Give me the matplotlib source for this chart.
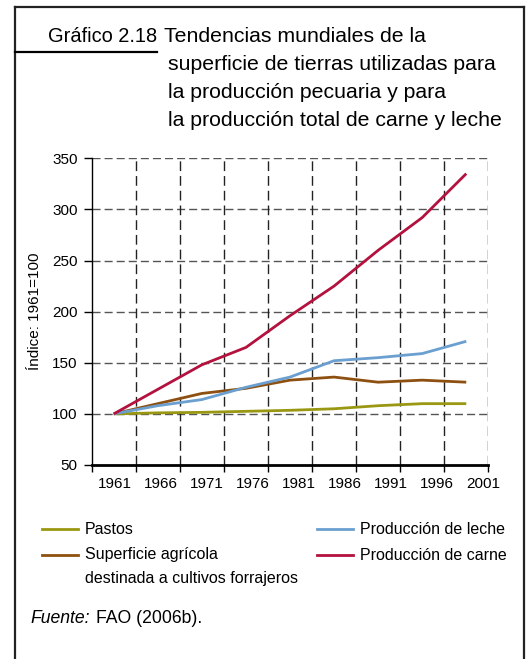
import numpy as np
import matplotlib
matplotlib.use("Agg")
import matplotlib.pyplot as plt
from matplotlib.lines import Line2D

plt.rcParams['font.family'] = ['Liberation Sans', 'DejaVu Sans']

# data (index 1961 = 100)
years = ['1961', '1966', '1971', '1976', '1981', '1986', '1991', '1996', '2001']
pastos = [100, 101, 101.5, 102.5, 103.5, 105, 108, 110, 110]
forrajeros = [100, 110, 120, 125, 133, 136, 131, 133, 131]
leche = [100, 108, 114, 126, 136, 152, 155, 159, 171]
carne = [100, 124, 148, 165, 196, 225, 260, 292, 335]

series_names = ['Pastos', 'Superficie agrícola\ndestinada a cultivos forrajeros',
                'Producción de leche', 'Producción de carne']
series_colors = ['#9a9812', '#8e5010', '#6a9fd0', '#b3123e']

title_head = 'Gráfico 2.18'
title_lines = ['Tendencias mundiales de la',
               'superficie de tierras utilizadas para',
               'la producción pecuaria y para',
               'la producción total de carne y leche']

W, H = 527, 659
fig = plt.figure(figsize=(W / 100, H / 100), dpi=100)

def fx(px):
    return px / W

def fy(py):
    return 1 - py / H

# frame around the whole figure box
frame_col = '#222222'
fig.add_artist(Line2D([fx(15), fx(15)], [fy(7), 0], color=frame_col, lw=1.6))
fig.add_artist(Line2D([fx(15), fx(524)], [fy(7), fy(7)], color=frame_col, lw=1.6))
fig.add_artist(Line2D([fx(524), fx(524)], [fy(7), 0], color=frame_col, lw=1.6))
fig.add_artist(Line2D([fx(15), fx(157)], [fy(52), fy(52)], color='black', lw=1.6))

# title
fig.text(fx(48), fy(42.5), title_head, fontsize=14.4, va='baseline', ha='left')
for i, line in enumerate(title_lines):
    x0 = 164 if i == 0 else 168
    fig.text(fx(x0), fy(42.5 + i * 27.8), line, fontsize=15.3, va='baseline', ha='left')

# axes
ax = fig.add_axes([fx(91.7), fy(465), fx(488.3) - fx(91.7), fy(158.3) - fy(465)])
x = np.arange(len(years))
for vals, col in zip([pastos, forrajeros, leche, carne], series_colors):
    ax.plot(x, vals, color=col, lw=2, solid_capstyle='butt', zorder=3)

ax.set_xlim(-0.5, len(years) - 0.5)
ax.set_ylim(50, 350)
ax.set_yticks(np.arange(50, 351, 50))
ax.tick_params(axis='y', direction='out', length=6, width=1, pad=4, labelsize=11)

# category boundaries get the tick marks, labels sit in between
ax.set_xticks(np.arange(len(years) + 1) - 0.5, minor=True)
ax.set_xticks(x * 1.044 + 0.03)
ax.set_xticklabels(years)
ax.tick_params(axis='x', which='major', length=0, pad=9, labelsize=11)
ax.tick_params(axis='x', which='minor', direction='out', length=5, width=1)

dash_h = (0, (5.8, 2.9))
dash_v = (0, (7, 3.6))
for yv in np.arange(100, 351, 50):
    ax.axhline(yv, color='#555555', lw=1, linestyle=dash_h, zorder=1)
for xv in np.arange(len(years)) + 0.5:
    ax.axvline(xv, color='#222222', lw=1, linestyle=dash_v, zorder=1)

ax.spines['top'].set_visible(False)
ax.spines['right'].set_visible(False)
ax.spines['left'].set_linewidth(1)
ax.spines['bottom'].set_linewidth(2)

fig.text(fx(35), fy(311.7), 'Índice: 1961=100', rotation=90, fontsize=11,
         ha='center', va='center')

# legend drawn by hand in two columns
leg_pos = [(41.7, 528.5), (41.7, 554.5), (316.7, 528.5), (316.7, 554.5)]
for name, col, (lx, ly) in zip(series_names, series_colors, leg_pos):
    fig.add_artist(Line2D([fx(lx), fx(lx + 36.6)], [fy(ly), fy(ly)], color=col, lw=2))
    for k, part in enumerate(name.split('\n')):
        fig.text(fx(lx + 43), fy(ly + 5 + k * 23), part, fontsize=11.5,
                 ha='left', va='baseline')

fig.text(fx(30), fy(623), 'Fuente:', fontsize=12.7, style='italic', ha='left', va='baseline')
fig.text(fx(96.5), fy(623), 'FAO (2006b).', fontsize=12.7, ha='left', va='baseline')

fig.savefig('out.png', dpi=100)
